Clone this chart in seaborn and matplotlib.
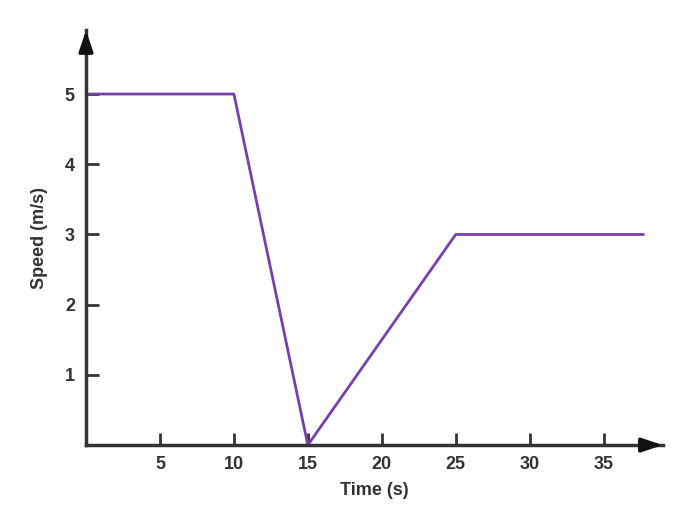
import numpy as np
import pandas as pd
import matplotlib
matplotlib.use("Agg")
import matplotlib.pyplot as plt
import seaborn as sns

# speed vs time readings
time_s = [0, 10, 15, 25, 37.7]
speed_ms = [5, 5, 0, 3, 3]
x_ticks = [5, 10, 15, 20, 25, 30, 35]
y_ticks = [1, 2, 3, 4, 5]

df = pd.DataFrame({'Time (s)': time_s, 'Speed (m/s)': speed_ms})

sns.set_style("ticks")
plt.rcParams['font.family'] = ['Liberation Sans', 'DejaVu Sans']

fig = plt.figure(figsize=(6.73, 5.11), dpi=100)
ax = fig.add_axes([0.1278, 0.129, 0.857, 0.812])

sns.lineplot(data=df, x='Time (s)', y='Speed (m/s)', ax=ax,
             color='#7a40aa', linewidth=2, sort=False, clip_on=False)

ax.set_xlim(0, 39)
ax.set_ylim(0, 5.91)
ax.set_xticks(x_ticks)
ax.set_yticks(y_ticks)
ax.tick_params(direction='in', length=9, width=2, color='#333333',
               labelsize=13, labelcolor='#333333', pad=8)
for lab in ax.get_xticklabels() + ax.get_yticklabels():
    lab.set_fontweight('bold')

sns.despine(ax=ax)
for side in ['left', 'bottom']:
    ax.spines[side].set_linewidth(2.5)
    ax.spines[side].set_color('#333333')

# arrow heads at the ends of the axes
head = dict(arrowstyle='-|>,head_length=0.9,head_width=0.3', mutation_scale=14,
            color='#111111', lw=2.5, shrinkA=0, shrinkB=0)
ax.annotate('', xy=(1.0, 0), xytext=(0.96, 0), xycoords='axes fraction',
            arrowprops=head, annotation_clip=False)
ax.annotate('', xy=(0, 1.0), xytext=(0, 0.96), xycoords='axes fraction',
            arrowprops=head, annotation_clip=False)

ax.set_xlabel('Time (s)', fontsize=13, fontweight='bold', color='#333333', labelpad=6)
ax.set_ylabel('Speed (m/s)', fontsize=13, fontweight='bold', color='#333333', labelpad=12)

fig.savefig('out.png', dpi=100)
